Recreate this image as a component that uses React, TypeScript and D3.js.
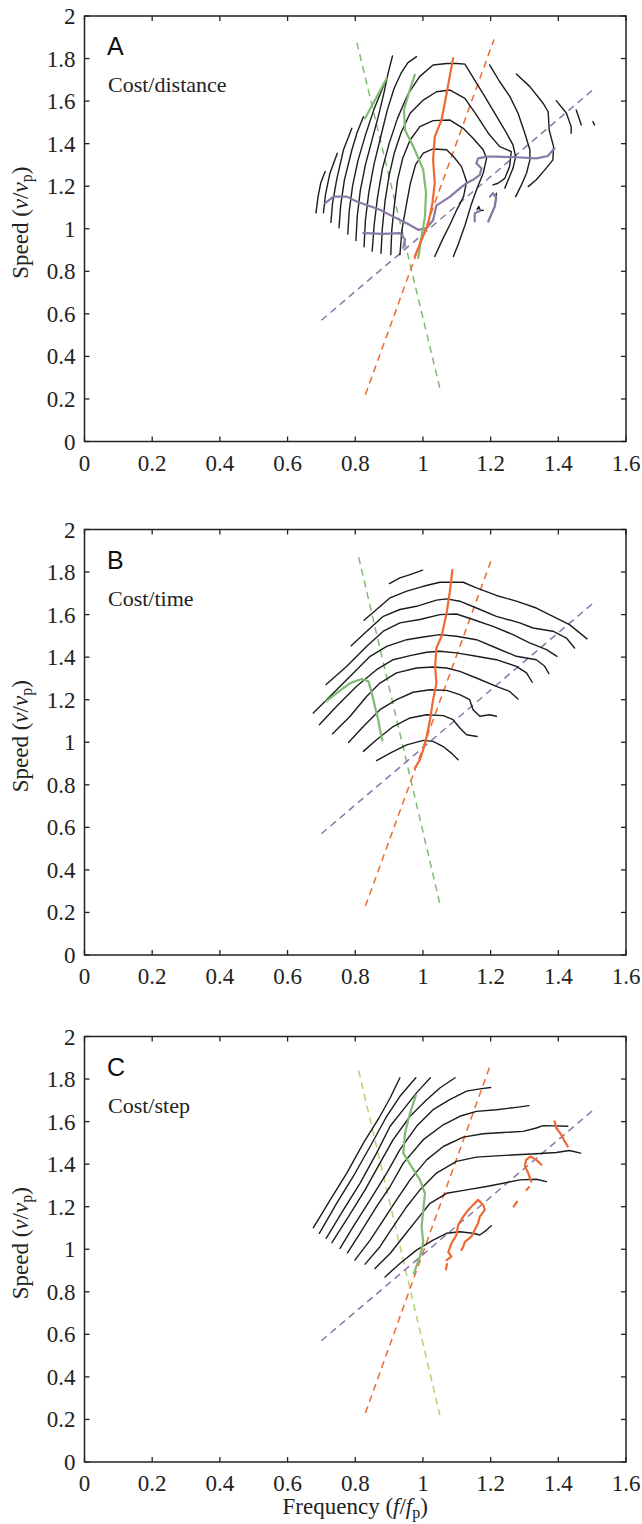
import React from 'react';
import * as d3 from 'd3';

type Pt = [number, number];

// ---------- axis ticks ----------
const xTicks = [0, 0.2, 0.4, 0.6, 0.8, 1, 1.2, 1.4, 1.6];
const yTicks = [0, 0.2, 0.4, 0.6, 0.8, 1, 1.2, 1.4, 1.6, 1.8, 2];
const panelLetters = ['A', 'B', 'C'];
const panelTitles = ['Cost/distance', 'Cost/time', 'Cost/step'];

// ---------- Panel A: cost/distance ----------
const contoursA: Pt[][] = [
  [[0.684,1.075],[0.690,1.150],[0.698,1.215],[0.711,1.269]],
  [[0.706,1.075],[0.712,1.160],[0.725,1.260],[0.747,1.355]],
  [[0.728,1.030],[0.733,1.120],[0.745,1.230],[0.765,1.370],[0.790,1.472]],
  [[0.752,1.005],[0.757,1.110],[0.768,1.230],[0.790,1.370],[0.805,1.450],[0.824,1.527]],
  [[0.778,0.975],[0.782,1.080],[0.792,1.200],[0.808,1.320],[0.830,1.440],[0.855,1.560],[0.878,1.650],[0.893,1.707]],
  [[0.802,0.945],[0.806,1.060],[0.815,1.180],[0.830,1.300],[0.850,1.420],[0.870,1.540],[0.885,1.640],[0.897,1.730],[0.910,1.812]],
  [[0.826,0.915],[0.830,1.040],[0.840,1.170],[0.855,1.300],[0.875,1.430],[0.895,1.560],[0.915,1.660],[0.935,1.730],[0.955,1.780],[0.981,1.809]],
  [[0.850,0.895],[0.856,1.020],[0.866,1.150],[0.880,1.280],[0.900,1.400],[0.925,1.520],[0.955,1.630],[0.990,1.715],[1.030,1.770],[1.070,1.777],[1.100,1.777],[1.124,1.774],[1.153,1.699],[1.183,1.621],[1.212,1.543],[1.242,1.464],[1.266,1.394],[1.274,1.339],[1.266,1.284],[1.252,1.230],[1.242,1.191]],
  [[0.876,0.885],[0.880,1.000],[0.888,1.130],[0.900,1.250],[0.916,1.360],[0.935,1.450],[0.962,1.543],[1.001,1.605],[1.040,1.644],[1.080,1.652],[1.124,1.613],[1.158,1.535],[1.193,1.449],[1.227,1.386],[1.261,1.363],[1.256,1.292],[1.242,1.237],[1.222,1.214],[1.207,1.206]],
  [[0.905,0.878],[0.908,0.995],[0.915,1.104],[0.925,1.230],[0.940,1.330],[0.962,1.417],[0.991,1.480],[1.030,1.508],[1.080,1.511],[1.119,1.472],[1.148,1.425],[1.178,1.371],[1.188,1.331],[1.178,1.261],[1.160,1.190],[1.142,1.110],[1.125,1.020],[1.105,0.930],[1.090,0.870]],
  [[0.932,0.878],[0.938,0.995],[0.950,1.104],[0.963,1.214],[0.978,1.300],[1.001,1.355],[1.030,1.375],[1.070,1.371],[1.089,1.342],[1.114,1.292],[1.129,1.222],[1.120,1.151],[1.100,1.089],[1.080,1.020],[1.058,0.950],[1.035,0.870]],
  [[1.217,1.167],[1.212,1.104],[1.193,1.034]],
  [[1.160,1.090],[1.165,1.105],[1.170,1.085],[1.178,1.087]],
  [[1.197,1.770],[1.227,1.691],[1.257,1.621],[1.281,1.543],[1.301,1.449],[1.316,1.371],[1.316,1.324],[1.306,1.261],[1.291,1.206],[1.274,1.151]],
  [[1.276,1.727],[1.316,1.668],[1.355,1.590],[1.370,1.550],[1.373,1.464],[1.386,1.386],[1.384,1.324],[1.360,1.277],[1.335,1.230],[1.311,1.198]],
  [[1.394,1.602],[1.424,1.543],[1.438,1.480],[1.438,1.449]],
  [[1.453,1.558],[1.468,1.488]],
  [[1.502,1.504],[1.507,1.488]],
];
const orangeA: Pt[][] = [
  [[1.089,1.801],[1.070,1.637],[1.055,1.511],[1.035,1.433],[1.030,1.324],[1.035,1.214],[1.028,1.120],[1.016,1.026],[0.996,0.948],[0.976,0.870]],
];
const greenA: Pt[][] = [
  [[0.976,1.723],[0.961,1.652],[0.944,1.558],[0.947,1.464],[0.976,1.371],[1.001,1.277],[1.009,1.167],[1.006,1.057],[0.996,0.964],[0.986,0.862]],
  [[0.829,1.519],[0.860,1.610],[0.893,1.707]],
];
const purpleA: Pt[][] = [
  [[0.711,1.120],[0.736,1.151],[0.775,1.151],[0.804,1.128],[0.834,1.112],[0.873,1.089],[0.912,1.057],[0.952,1.026],[0.986,0.995],[1.011,1.003],[1.030,1.040],[1.040,1.110],[1.060,1.130],[1.080,1.151],[1.109,1.190],[1.129,1.214],[1.148,1.230],[1.168,1.253],[1.173,1.284],[1.158,1.308],[1.163,1.331],[1.188,1.339],[1.217,1.339],[1.276,1.336],[1.335,1.331],[1.369,1.342],[1.389,1.378]],
  [[0.824,0.979],[0.883,0.976],[0.932,0.979],[0.947,0.950],[0.942,0.910]],
  [[1.153,1.034],[1.153,1.073],[1.168,1.084]],
  [[1.193,1.034],[1.212,1.104],[1.217,1.144],[1.207,1.167],[1.198,1.151]],
];

// ---------- Panel B: cost/time ----------
const contoursB: Pt[][] = [
  [[0.901,1.746],[0.932,1.773],[0.962,1.788],[0.999,1.809]],
  [[0.826,1.573],[0.863,1.624],[0.903,1.679],[0.952,1.710],[1.001,1.733],[1.050,1.752],[1.119,1.752],[1.158,1.726],[1.217,1.690],[1.276,1.663],[1.335,1.631],[1.384,1.592],[1.433,1.553],[1.485,1.486]],
  [[0.788,1.454],[0.834,1.522],[0.883,1.592],[0.932,1.624],[0.981,1.639],[1.040,1.668],[1.070,1.674],[1.109,1.663],[1.158,1.631],[1.217,1.592],[1.286,1.561],[1.325,1.537],[1.384,1.522],[1.424,1.490],[1.448,1.443]],
  [[0.714,1.271],[0.775,1.357],[0.834,1.451],[0.883,1.522],[0.932,1.561],[0.991,1.577],[1.050,1.600],[1.099,1.603],[1.148,1.577],[1.207,1.545],[1.266,1.506],[1.315,1.467],[1.365,1.435],[1.396,1.404]],
  [[0.676,1.137],[0.726,1.216],[0.785,1.310],[0.844,1.404],[0.893,1.451],[0.952,1.482],[1.001,1.495],[1.050,1.506],[1.099,1.498],[1.158,1.482],[1.217,1.443],[1.276,1.404],[1.335,1.388],[1.360,1.357],[1.372,1.322]],
  [[0.694,1.082],[0.745,1.169],[0.804,1.263],[0.863,1.341],[0.912,1.388],[0.962,1.407],[1.011,1.423],[1.050,1.428],[1.099,1.420],[1.158,1.404],[1.217,1.388],[1.276,1.357],[1.306,1.326],[1.323,1.282]],
  [[0.733,1.040],[0.785,1.122],[0.834,1.216],[0.873,1.278],[0.922,1.326],[0.981,1.349],[1.030,1.354],[1.070,1.349],[1.109,1.333],[1.158,1.302],[1.217,1.263],[1.256,1.239],[1.281,1.203]],
  [[0.780,0.999],[0.824,1.074],[0.873,1.153],[0.922,1.200],[0.971,1.235],[1.021,1.247],[1.070,1.244],[1.109,1.224],[1.138,1.200],[1.148,1.153],[1.168,1.122],[1.197,1.129],[1.217,1.122]],
  [[0.824,0.957],[0.863,1.012],[0.912,1.074],[0.962,1.114],[1.011,1.129],[1.060,1.125],[1.089,1.106],[1.109,1.067],[1.129,1.035],[1.160,1.027]],
  [[0.863,0.914],[0.903,0.949],[0.952,0.988],[1.001,1.009],[1.030,1.004],[1.060,0.980],[1.084,0.949],[1.104,0.918]],
];
const orangeB: Pt[][] = [
  [[1.087,1.809],[1.079,1.702],[1.070,1.608],[1.055,1.498],[1.040,1.443],[1.036,1.357],[1.040,1.278],[1.030,1.200],[1.021,1.106],[1.011,1.027],[1.001,0.965],[0.991,0.918],[0.976,0.878]],
];
const greenB: Pt[][] = [
  [[0.714,1.192],[0.745,1.231],[0.785,1.278],[0.819,1.297],[0.839,1.286],[0.849,1.231],[0.858,1.169],[0.868,1.106],[0.873,1.059],[0.880,1.009]],
];

// ---------- Panel C: cost/step ----------
const contoursC: Pt[][] = [
  [[0.676,1.101],[0.726,1.232],[0.775,1.358],[0.824,1.499],[0.873,1.625],[0.903,1.711],[0.932,1.806]],
  [[0.694,1.075],[0.745,1.216],[0.794,1.342],[0.844,1.483],[0.893,1.625],[0.932,1.719],[0.979,1.806]],
  [[0.714,1.051],[0.765,1.185],[0.814,1.310],[0.863,1.452],[0.903,1.578],[0.942,1.656],[0.981,1.735],[1.022,1.806]],
  [[0.731,1.031],[0.780,1.153],[0.829,1.279],[0.873,1.405],[0.912,1.515],[0.962,1.625],[1.011,1.703],[1.050,1.758],[1.095,1.806]],
  [[0.755,1.004],[0.794,1.106],[0.844,1.232],[0.893,1.358],[0.932,1.468],[0.981,1.578],[1.030,1.656],[1.079,1.703],[1.129,1.743],[1.168,1.754],[1.200,1.760]],
  [[0.777,0.983],[0.814,1.075],[0.863,1.200],[0.903,1.295],[0.942,1.405],[1.001,1.515],[1.060,1.585],[1.109,1.625],[1.158,1.648],[1.217,1.656],[1.276,1.667],[1.313,1.675]],
  [[0.799,0.949],[0.844,1.043],[0.883,1.137],[0.922,1.232],[0.962,1.326],[1.011,1.420],[1.060,1.483],[1.119,1.527],[1.178,1.543],[1.237,1.549],[1.296,1.554],[1.335,1.570],[1.355,1.581],[1.428,1.578]],
  [[0.829,0.930],[0.873,1.012],[0.912,1.106],[0.952,1.200],[0.991,1.279],[1.040,1.358],[1.099,1.413],[1.158,1.433],[1.217,1.439],[1.276,1.444],[1.335,1.449],[1.394,1.455],[1.433,1.464],[1.466,1.452]],
  [[0.858,0.909],[0.903,0.980],[0.942,1.059],[0.981,1.137],[1.021,1.216],[1.070,1.263],[1.129,1.279],[1.188,1.295],[1.237,1.310],[1.286,1.326],[1.335,1.329],[1.365,1.318]],
  [[0.888,0.870],[0.932,0.933],[0.981,0.996],[1.030,1.043],[1.070,1.075],[1.109,1.082],[1.148,1.075],[1.168,1.067],[1.188,1.090],[1.202,1.111]],
];
const orangeC: Pt[][] = [
  [[1.070,0.949],[1.084,0.965],[1.075,0.988],[1.084,1.027],[1.099,1.067],[1.104,1.114],[1.119,1.153],[1.134,1.185],[1.143,1.200],[1.163,1.232],[1.178,1.208],[1.183,1.185],[1.168,1.153],[1.163,1.122],[1.153,1.090],[1.143,1.059],[1.124,1.035],[1.119,1.012],[1.114,0.996]],
  [[1.068,0.905],[1.071,0.930]],
  [[1.320,1.318],[1.311,1.358],[1.301,1.392],[1.305,1.420],[1.318,1.436],[1.335,1.420],[1.350,1.397]],
  [[1.306,1.279],[1.313,1.292]],
  [[1.268,1.200],[1.278,1.224]],
  [[1.389,1.601],[1.394,1.570],[1.409,1.538],[1.419,1.507],[1.428,1.483]],
];
const greenC: Pt[][] = [
  [[0.979,1.722],[0.962,1.640],[0.947,1.546],[0.942,1.452],[0.966,1.389],[0.991,1.326],[1.006,1.263],[1.001,1.185],[0.996,1.106],[1.001,1.035],[0.991,0.965],[0.973,0.886]],
];

// ---------- reference (dashed) lines ----------
const greenDashA: Pt[] = [[0.805, 1.875], [1.05, 0.25]];
const orangeDashA: Pt[] = [[0.83, 0.22], [1.21, 1.89]];
const purpleDashA: Pt[] = [[0.70, 0.57], [1.50, 1.65]];
const greenDashB: Pt[] = [[0.81, 1.87], [1.05, 0.24]];
const orangeDashB: Pt[] = [[0.83, 0.23], [1.205, 1.87]];
const purpleDashB: Pt[] = [[0.70, 0.57], [1.50, 1.65]];
const greenDashC: Pt[] = [[0.81, 1.84], [1.05, 0.22]];
const orangeDashC: Pt[] = [[0.83, 0.23], [1.20, 1.87]];
const purpleDashC: Pt[] = [[0.70, 0.57], [1.50, 1.65]];

const BLACK = '#1c1c1c';
const ORANGE = '#ef6a32';
const GREEN = '#80bb74';
const YGREEN = '#b6d173';
const PURPLE = '#8879a9';

const SERIF = '"Liberation Serif", "Times New Roman", serif';
const SANS = '"Liberation Sans", Arial, sans-serif';

const X0 = 84.5;
const X1 = 626;
const PH = 425.5;
const tops = [16, 529.5, 1036.5];

const xScale = d3.scaleLinear().domain([0, 1.6]).range([X0, X1]);
const fmt = (v: number) => String(+v.toFixed(1));

interface PanelProps {
  idx: number;
  contours: Pt[][];
  solids: { lines: Pt[][]; color: string }[];
  dashes: { pts: Pt[]; color: string }[];
  showXLabel: boolean;
}

function Panel({ idx, contours, solids, dashes, showXLabel }: PanelProps) {
  const top = tops[idx];
  const bottom = top + PH;
  const y = d3.scaleLinear().domain([0, 2]).range([bottom, top]);
  const line = d3.line<Pt>().x(d => xScale(d[0])).y(d => y(d[1]));
  const cy = (top + bottom) / 2 - 6;
  return (
    <g>
      {dashes.map((d, i) => (
        <path key={'d' + i} d={line(d.pts) || ''} fill="none" stroke={d.color} strokeWidth={1.5} strokeDasharray="7,5" />
      ))}
      {contours.map((c, i) => (
        <path key={'c' + i} d={line(c) || ''} fill="none" stroke={BLACK} strokeWidth={1.4} strokeLinejoin="round" strokeLinecap="round" />
      ))}
      {solids.map((s, j) =>
        s.lines.map((c, i) => (
          <path key={'s' + j + '_' + i} d={line(c) || ''} fill="none" stroke={s.color} strokeWidth={2.2} strokeLinejoin="round" strokeLinecap="round" />
        ))
      )}
      <rect x={X0} y={top} width={X1 - X0} height={PH} fill="none" stroke="#222" strokeWidth={1.5} />
      {xTicks.map(t => (
        <g key={'xt' + t}>
          <line x1={xScale(t)} x2={xScale(t)} y1={bottom} y2={bottom - 5} stroke="#222" strokeWidth={1.3} />
          <line x1={xScale(t)} x2={xScale(t)} y1={top} y2={top + 5} stroke="#222" strokeWidth={1.3} />
          <text x={xScale(t)} y={bottom + 29} textAnchor="middle" fontFamily={SERIF} fontSize={23} fill="#222">{fmt(t)}</text>
        </g>
      ))}
      {yTicks.map(t => (
        <g key={'yt' + t}>
          <line x1={X0} x2={X0 + 5} y1={y(t)} y2={y(t)} stroke="#222" strokeWidth={1.3} />
          <line x1={X1} x2={X1 - 5} y1={y(t)} y2={y(t)} stroke="#222" strokeWidth={1.3} />
          <text x={X0 - 9} y={y(t) + 8} textAnchor="end" fontFamily={SERIF} fontSize={23} fill="#222">{fmt(t)}</text>
        </g>
      ))}
      <text x={107} y={top + 39} fontFamily={SANS} fontSize={25} fill="#111">{panelLetters[idx]}</text>
      <text x={108} y={top + 76} fontFamily={SERIF} fontSize={22} fill="#222">{panelTitles[idx]}</text>
      <text transform={`translate(28,${cy}) rotate(-90)`} textAnchor="middle" fontFamily={SERIF} fontSize={23} fill="#222">
        Speed (<tspan fontStyle="italic">v</tspan>/<tspan fontStyle="italic">v</tspan><tspan fontSize={16} dy={4}>p</tspan><tspan dy={-4}>)</tspan>
      </text>
      {showXLabel && (
        <text x={(X0 + X1) / 2} y={bottom + 52} textAnchor="middle" fontFamily={SERIF} fontSize={23} fill="#222">
          Frequency (<tspan fontStyle="italic">f</tspan>/<tspan fontStyle="italic">f</tspan><tspan fontSize={16} dy={4}>p</tspan><tspan dy={-4}>)</tspan>
        </text>
      )}
    </g>
  );
}

export default function App() {
  return (
    <svg width={642} height={1524} style={{ position: 'absolute', left: 0, top: 0, background: '#fff' }}>
      <rect x={0} y={0} width={642} height={1524} fill="#fff" />
      <Panel
        idx={0}
        contours={contoursA}
        solids={[{ lines: purpleA, color: PURPLE }, { lines: greenA, color: GREEN }, { lines: orangeA, color: ORANGE }]}
        dashes={[{ pts: greenDashA, color: GREEN }, { pts: orangeDashA, color: ORANGE }, { pts: purpleDashA, color: PURPLE }]}
        showXLabel={false}
      />
      <Panel
        idx={1}
        contours={contoursB}
        solids={[{ lines: greenB, color: GREEN }, { lines: orangeB, color: ORANGE }]}
        dashes={[{ pts: greenDashB, color: GREEN }, { pts: orangeDashB, color: ORANGE }, { pts: purpleDashB, color: PURPLE }]}
        showXLabel={false}
      />
      <Panel
        idx={2}
        contours={contoursC}
        solids={[{ lines: greenC, color: GREEN }, { lines: orangeC, color: ORANGE }]}
        dashes={[{ pts: greenDashC, color: YGREEN }, { pts: orangeDashC, color: ORANGE }, { pts: purpleDashC, color: PURPLE }]}
        showXLabel={true}
      />
    </svg>
  );
}
